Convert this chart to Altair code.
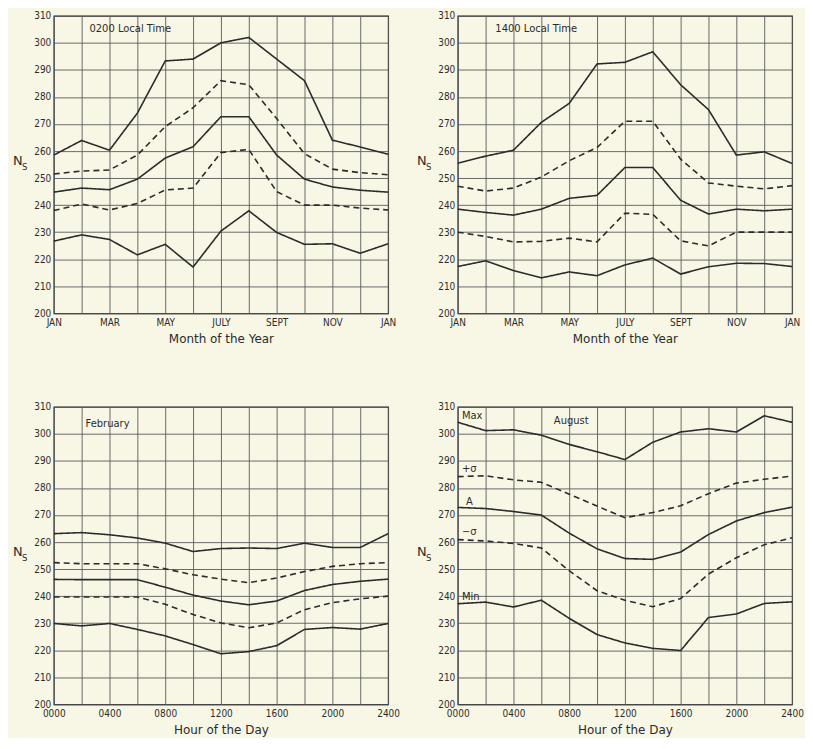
import altair as alt
import pandas as pd

# ---------------- data ----------------
series_names = ["Max", "+σ", "A", "−σ", "Min"]
dash_styles = [[1, 0], [6, 4], [1, 0], [6, 4], [1, 0]]

month_idx = list(range(13))
month_labels = ["JAN", "MAR", "MAY", "JULY", "SEPT", "NOV", "JAN"]
hours = list(range(0, 25, 2))

# 0200 Local Time (by month)
p1_max = [258.5, 263.9, 260.3, 274.0, 293.3, 294.0, 300.0, 302.0, 294.0, 286.0, 264.0, 261.5, 258.8]
p1_psig = [251.5, 252.6, 253.0, 258.5, 269.0, 276.0, 286.0, 284.5, 272.0, 259.0, 253.3, 252.0, 251.2]
p1_avg = [244.8, 246.3, 245.7, 249.6, 257.4, 261.6, 272.7, 272.7, 258.5, 249.6, 246.7, 245.5, 244.8]
p1_msig = [238.0, 240.4, 238.2, 240.6, 245.6, 246.3, 259.4, 260.6, 245.0, 240.0, 240.0, 238.9, 238.2]
p1_min = [226.7, 229.0, 227.3, 221.6, 225.5, 217.1, 230.4, 237.9, 229.9, 225.5, 225.7, 222.2, 225.7]

# 1400 Local Time (by month)
p2_max = [255.5, 258.1, 260.3, 270.6, 277.6, 292.2, 292.8, 296.7, 284.5, 275.3, 258.5, 259.7, 255.4]
p2_psig = [247.0, 245.2, 246.3, 250.4, 256.4, 261.3, 271.0, 271.0, 257.0, 248.2, 247.0, 246.0, 247.2]
p2_avg = [238.5, 237.3, 236.3, 238.5, 242.5, 243.6, 253.9, 253.9, 241.8, 236.7, 238.5, 237.9, 238.5]
p2_msig = [230.0, 228.4, 226.4, 226.6, 227.8, 226.4, 237.0, 236.6, 226.8, 224.9, 230.0, 230.0, 230.0]
p2_min = [217.3, 219.4, 215.8, 213.1, 215.3, 213.9, 217.9, 220.4, 214.5, 217.2, 218.5, 218.4, 217.3]

# February (by hour)
p3_max = [263.1, 263.5, 262.7, 261.5, 259.6, 256.5, 257.6, 257.8, 257.6, 259.6, 258.0, 258.0, 263.1]
p3_psig = [252.4, 252.0, 252.0, 252.0, 250.1, 247.9, 246.3, 245.0, 246.7, 249.1, 251.0, 252.0, 252.4]
p3_avg = [246.2, 246.1, 246.1, 246.1, 243.3, 240.4, 238.2, 236.8, 238.2, 242.1, 244.3, 245.5, 246.3]
p3_msig = [239.7, 239.7, 239.7, 239.7, 237.0, 233.2, 230.1, 228.3, 230.1, 235.0, 237.6, 239.0, 240.0]
p3_min = [229.9, 229.0, 229.9, 227.7, 225.3, 222.1, 218.7, 219.5, 221.7, 227.7, 228.4, 227.8, 229.9]

# August (by hour)
p4_max = [304.3, 301.2, 301.5, 299.5, 296.1, 293.4, 290.5, 296.9, 300.7, 301.9, 300.7, 306.7, 304.3]
p4_psig = [284.2, 284.5, 283.0, 282.1, 277.7, 273.3, 269.0, 270.9, 273.4, 277.9, 281.8, 283.2, 284.4]
p4_avg = [272.8, 272.4, 271.3, 270.0, 263.3, 257.5, 253.9, 253.6, 256.3, 262.8, 267.8, 270.9, 272.9]
p4_msig = [260.9, 260.4, 259.5, 257.8, 249.4, 242.0, 238.5, 236.1, 239.1, 248.2, 254.2, 259.0, 261.6]
p4_min = [237.2, 237.8, 236.0, 238.5, 231.8, 225.8, 222.7, 220.7, 219.9, 232.1, 233.4, 237.3, 237.9]

# August curve labels
p4_ann_text = ["Max", "+σ", "A", "−σ", "Min"]
p4_ann_x = [0.3, 0.3, 0.6, 0.3, 0.3]
p4_ann_y = [306.7, 287.1, 274.7, 263.8, 239.8]

# ---------------- style ----------------
BG = "#f8f7e6"
INK = "#2b2b2b"
GRID = "#5a5a5a"
TICK_FONT = "Liberation Sans Narrow, DejaVu Sans Condensed, Roboto Condensed, Liberation Sans"
TEXT_FONT = "DejaVu Sans"
W, H = 336, 299

month_expr = ("datum.value % 2 == 0 ? ['JAN','MAR','MAY','JULY','SEPT','NOV','JAN'][datum.value/2] : ''")
hour_expr = ("datum.value % 4 == 0 ? (datum.value < 10 ? '0' + datum.value + '00' : datum.value + '00') : ''")


def long_df(xs, cols):
    rows = []
    for name, vals in zip(series_names, cols):
        for x, v in zip(xs, vals):
            rows.append({"x": x, "v": v, "series": name})
    return pd.DataFrame(rows)


def panel(xs, cols, xmax, axis_values, label_expr, xtitle, tag, tag_x, tag_y, ann=None):
    df = long_df(xs, cols)
    xscale = alt.Scale(domain=[0, xmax], nice=False, zero=False)
    yscale = alt.Scale(domain=[200, 310], nice=False, zero=False)
    xaxis = alt.Axis(values=axis_values, labelExpr=label_expr, title=xtitle,
                     grid=True, gridColor=GRID, gridWidth=0.9, ticks=False,
                     domain=False, labelFont=TICK_FONT, labelFontSize=10,
                     labelColor=INK, labelPadding=4, labelOverlap=False,
                     labelFlush=False, titleFont=TEXT_FONT, titleFontSize=12,
                     titleFontWeight="normal", titleColor=INK, titlePadding=6)
    yaxis = alt.Axis(values=list(range(200, 311, 10)), title=None, grid=True,
                     gridColor=GRID, gridWidth=0.9, ticks=False, domain=False,
                     labelFont=TICK_FONT, labelFontSize=10, labelColor=INK,
                     labelPadding=3, labelOverlap=False, labelFlush=False)
    X = alt.X("x:Q", scale=xscale, axis=xaxis)
    Y = alt.Y("v:Q", scale=yscale, axis=yaxis)
    lines = alt.Chart(df).mark_line(strokeWidth=1.6, color=INK).encode(
        x=X, y=Y,
        strokeDash=alt.StrokeDash("series:N",
                                  scale=alt.Scale(domain=series_names, range=dash_styles),
                                  legend=None),
        detail="series:N",
    )
    tag_df = pd.DataFrame({"x": [tag_x], "v": [tag_y], "t": [tag]})
    tag_layer = alt.Chart(tag_df).mark_text(align="left", baseline="middle", font=TEXT_FONT,
                                            fontSize=10, color=INK).encode(
        x=X, y=Y, text="t:N")
    n_df = pd.DataFrame({"t": ["N"]})
    n_layer = alt.Chart(n_df).mark_text(align="left", baseline="alphabetic", font=TEXT_FONT,
                                        fontSize=13, color=INK).encode(
        x=alt.value(-41), y=alt.value(150), text="t:N")
    s_df = pd.DataFrame({"t": ["S"]})
    s_layer = alt.Chart(s_df).mark_text(align="left", baseline="alphabetic", font=TEXT_FONT,
                                        fontSize=8.5, color=INK).encode(
        x=alt.value(-32), y=alt.value(155), text="t:N")
    layers = [lines, tag_layer, n_layer, s_layer]
    if ann is not None:
        adf = pd.DataFrame({"x": ann[1], "v": ann[2], "t": ann[0]})
        layers.append(alt.Chart(adf).mark_text(align="left", baseline="middle", font=TEXT_FONT,
                                               fontSize=10, color=INK).encode(
            x=X, y=Y, text="t:N"))
    return alt.layer(*layers).properties(width=W, height=H)


c1 = panel(month_idx, [p1_max, p1_psig, p1_avg, p1_msig, p1_min], 12, month_idx, month_expr,
           "Month of the Year", "0200 Local Time", 1.28, 305.0)
c2 = panel(month_idx, [p2_max, p2_psig, p2_avg, p2_msig, p2_min], 12, month_idx, month_expr,
           "Month of the Year", "1400 Local Time", 1.35, 305.0)
c3 = panel(hours, [p3_max, p3_psig, p3_avg, p3_msig, p3_min], 24, hours, hour_expr,
           "Hour of the Day", "February", 2.28, 303.8)
c4 = panel(hours, [p4_max, p4_psig, p4_avg, p4_msig, p4_min], 24, hours, hour_expr,
           "Hour of the Day", "August", 6.9, 304.9,
           ann=(p4_ann_text, p4_ann_x, p4_ann_y))

chart = alt.concat(
    c1, c2, c3, c4,
    columns=2,
    spacing=alt.RowColnumber(row=94, column=70),
    bounds="flush",
).properties(
    padding={"left": 4, "top": 0, "right": 0, "bottom": 0},
    background=BG,
).configure_view(stroke=INK, strokeWidth=1.2)

chart.save("out.html", embed_options={"renderer": "svg", "actions": False})
